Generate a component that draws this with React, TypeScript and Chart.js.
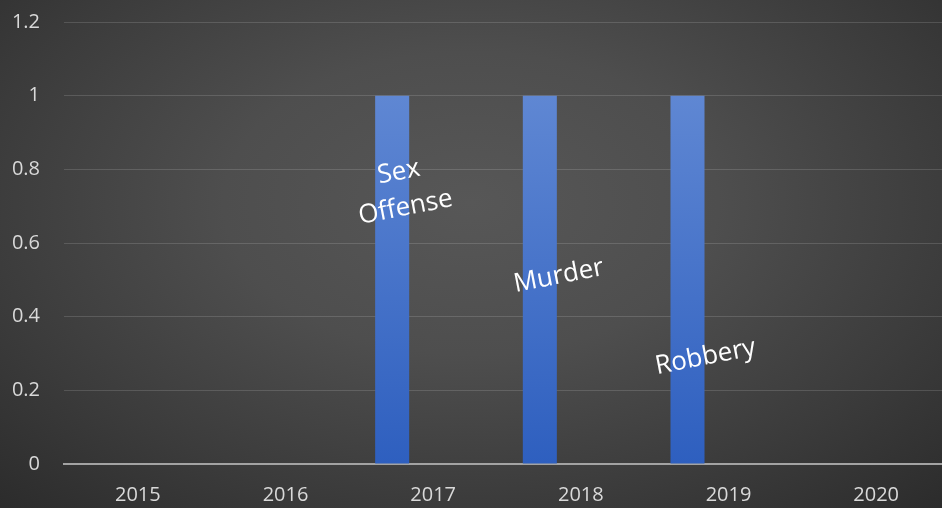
import React, { useEffect, useRef } from "react";
import { Chart, registerables } from "chart.js";

Chart.register(...registerables);

const categories = ["2015", "2016", "2017", "2018", "2019", "2020"];
const counts = [0, 0, 1, 1, 1, 0];
const barLabels = ["", "", "Sex\nOffense", "Murder", "Robbery", ""];
const labelValues = [0, 0, 0.744, 0.51, 0.29, 0];
const labelShiftX = [0, 0, 10, 19, 18, 0];
const emptySeries = [null, null, null, null, null, null];
const yTicks = [0, 0.2, 0.4, 0.6, 0.8, 1, 1.2];

const FONT = "'Open Sans', 'Liberation Sans', sans-serif";

const labelPlugin = {
  id: "barLabels",
  afterDatasetsDraw(chart: any) {
    const meta = chart.getDatasetMeta(0);
    const y = chart.scales.y;
    const ctx = chart.ctx;
    ctx.save();
    ctx.fillStyle = "#ffffff";
    ctx.font = `26px ${FONT}`;
    ctx.textAlign = "center";
    ctx.textBaseline = "middle";
    meta.data.forEach((bar: any, i: number) => {
      const text = barLabels[i];
      if (!text) return;
      const lines = text.split("\n");
      const cx = bar.x + labelShiftX[i];
      const cy = y.getPixelForValue(labelValues[i]);
      ctx.save();
      ctx.translate(cx, cy);
      ctx.rotate((-11 * Math.PI) / 180);
      const lh = 36;
      lines.forEach((ln: string, k: number) => {
        ctx.fillText(ln, 0, (k - (lines.length - 1) / 2) * lh);
      });
      ctx.restore();
    });
    ctx.restore();
  },
};

export default function App() {
  const ref = useRef<HTMLCanvasElement | null>(null);
  useEffect(() => {
    document.body.style.margin = "0";
    const canvas = ref.current!;
    const chart = new Chart(canvas, {
      type: "bar",
      data: {
        labels: categories,
        datasets: [
          {
            label: "Count",
            data: counts,
            backgroundColor: (c: any) => {
              const ch = c.chart;
              const ys = ch.scales && ch.scales.y;
              if (!ys || !ch.chartArea) return "#4472c4";
              const g = ch.ctx.createLinearGradient(0, ys.getPixelForValue(1), 0, ys.getPixelForValue(0));
              g.addColorStop(0, "#5f87d3");
              g.addColorStop(1, "#2e5fbf");
              return g;
            },
            borderWidth: 0,
            categoryPercentage: 0.833,
            barPercentage: 0.83,
          },
          { label: "b", data: emptySeries, categoryPercentage: 0.833, barPercentage: 0.83 },
          { label: "c", data: emptySeries, categoryPercentage: 0.833, barPercentage: 0.83 },
        ],
      },
      options: {
        responsive: false,
        animation: false,
        layout: { padding: { top: 22, left: 0, right: 0, bottom: 0 } },
        plugins: { legend: { display: false }, tooltip: { enabled: false } },
        scales: {
          x: {
            grid: { display: false, drawTicks: false },
            border: { display: true, color: "#a3a3a3", width: 2 },
            ticks: { color: "#d9d9d9", font: { size: 20, family: FONT }, padding: 19, maxRotation: 0 },
            afterFit: (s: any) => {
              s.height = 44;
            },
          },
          y: {
            min: 0,
            max: 1.2,
            grid: {
              color: "rgba(255,255,255,0.14)",
              lineWidth: 1,
              drawTicks: false,
            },
            border: { display: false },
            afterBuildTicks: (s: any) => {
              s.ticks = yTicks.map((v) => ({ value: v }));
            },
            ticks: {
              color: "#d9d9d9",
              font: { size: 20, family: FONT },
              padding: 24,
              callback: (v: any) => String(Math.round(Number(v) * 10) / 10),
            },
            afterFit: (s: any) => {
              s.width = 64;
              s.paddingTop = 0;
              s.paddingBottom = 0;
            },
          },
        },
      },
      plugins: [labelPlugin],
    });
    return () => chart.destroy();
  }, []);

  return (
    <div
      style={{
        position: "absolute",
        left: 0,
        top: 0,
        width: 942,
        height: 508,
        overflow: "hidden",
        background:
          "radial-gradient(ellipse 75% 85% at 50% 40%, #575757 0%, #4e4e4e 35%, #3b3b3b 70%, #2a2a2a 100%)",
      }}
    >
      <canvas ref={ref} width={950} height={508} style={{ display: "block" }} />
    </div>
  );
}
